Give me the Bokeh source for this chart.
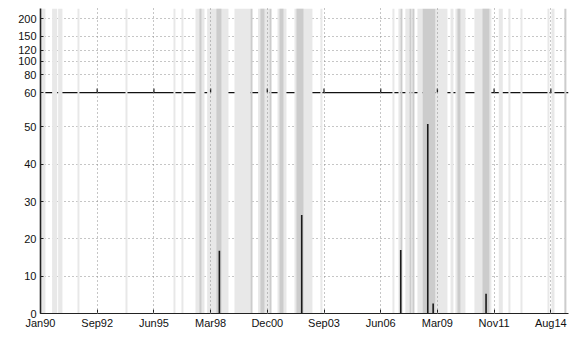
import numpy as np
import pandas as pd
from datetime import datetime
from bokeh.plotting import figure
from bokeh.models import Range1d, FixedTicker, Span
from bokeh.embed import file_html
from bokeh.resources import INLINE

# ---------------- data ----------------
x_tick_dates = ["1990-01-01", "1992-09-27", "1995-06-24", "1998-03-20", "2000-12-14",
                "2003-09-10", "2006-06-06", "2009-03-02", "2011-11-27", "2014-08-23"]
x_tick_labels = ["Jan90", "Sep92", "Jun95", "Mar98", "Dec00",
                 "Sep03", "Jun06", "Mar09", "Nov11", "Aug14"]
y_tick_values = [0, 10, 20, 30, 40, 50, 60, 80, 100, 120, 150, 200]

light_start = ["1990-01-01", "1990-07-25", "1990-11-08", "1991-10-15", "1994-02-08",
               "1996-06-03", "1996-10-22", "1997-06-26", "1998-01-18", "1999-05-15",
               "2000-07-05", "2001-06-12", "2002-04-07", "2003-07-08", "2006-12-30",
               "2007-04-15", "2007-08-15", "2007-11-30", "2008-03-15", "2009-01-27",
               "2009-10-19", "2010-01-14", "2010-12-15", "2012-02-17", "2012-08-05",
               "2013-03-06", "2014-06-25", "2014-09-03"]
light_end = ["1990-03-28", "1990-10-22", "1991-01-23", "1991-11-19", "1994-03-15",
             "1996-07-08", "1996-11-26", "1997-12-02", "1999-01-29", "2000-02-21",
             "2001-01-21", "2001-11-17", "2003-02-18", "2003-08-13", "2007-02-03",
             "2007-05-20", "2007-10-25", "2007-12-17", "2008-06-12", "2009-08-26",
             "2009-12-10", "2010-07-09", "2011-10-10", "2012-04-28", "2012-09-10",
             "2013-04-10", "2014-07-30", "2014-10-27"]

dark_start = ["1997-09-04", "1998-07-01", "2000-02-21", "2000-08-15", "2001-01-21",
              "2001-07-17", "2002-05-12", "2007-05-20", "2007-10-25", "2007-12-17",
              "2008-06-12", "2010-02-19", "2011-05-06", "2015-04-19"]
dark_end = ["1997-10-10", "1998-09-27", "2000-03-28", "2000-10-25", "2001-02-26",
            "2001-09-25", "2002-09-13", "2007-06-24", "2007-11-30", "2008-01-22",
            "2009-01-27", "2010-04-12", "2011-09-05", "2015-05-25"]

spike_dates = ["1998-08-22", "2002-08-13", "2007-05-25", "2008-09-13", "2008-12-17", "2011-07-08"]
spike_values = [16.8, 26.4, 17.0, 50.8, 2.7, 5.3]

# ---------------- broken y scale: linear below, log above ----------------
LOW_TOP = 59.2     # top of the linear part (plot units)
BREAK = 60.0       # value where the log part begins
K = 16.39          # plot units per e-fold in the log part
UP_TOP = 237.0     # top value of the log part


def ymap(v):
    v = np.asarray(v, dtype=float)
    return np.where(v < BREAK, v, LOW_TOP + K * np.log(np.maximum(v, BREAK) / BREAK))


YTOP = float(ymap(UP_TOP))
FONT = "Liberation Sans"

x_start = datetime(1990, 1, 1)
x_end = datetime(2015, 7, 1)

p = figure(width=572, height=335, x_axis_type="datetime",
           output_backend="svg", toolbar_location=None,
           x_range=Range1d(x_start, x_end), y_range=Range1d(0, YTOP),
           min_border_left=40, min_border_right=4, min_border_top=8, min_border_bottom=22)
p.outline_line_color = None
p.background_fill_color = "white"
p.border_fill_color = "white"

# line at the break (under the bands)
p.add_layout(Span(location=float(ymap(60)), dimension="width", level="underlay",
                  line_color="#111111", line_width=1.3))

# bands
p.quad(left=pd.to_datetime(light_start), right=pd.to_datetime(light_end),
       bottom=0, top=YTOP, fill_color="#e8e8e8", line_color=None)
p.quad(left=pd.to_datetime(dark_start), right=pd.to_datetime(dark_end),
       bottom=0, top=YTOP, fill_color="#cccccc", line_color=None)

# spikes
sd = pd.to_datetime(spike_dates)
p.segment(x0=sd, y0=0, x1=sd, y1=ymap(spike_values), line_color="#1a1a1a", line_width=1.6)

# small inward ticks of the upper axis at the break
xt = pd.to_datetime(x_tick_dates)
yb = float(ymap(60))
p.segment(x0=xt[1:], y0=yb, x1=xt[1:], y1=yb + 4 / 3.733, line_color="#222222", line_width=1.3)

# ticks
xt_ms = [int((d - pd.Timestamp("1970-01-01")) // pd.Timedelta(milliseconds=1)) for d in xt]
p.xaxis.ticker = FixedTicker(ticks=xt_ms)
p.xaxis.major_label_overrides = {ms: lab for ms, lab in zip(xt_ms, x_tick_labels)}
yt_pos = [round(float(ymap(v)), 6) for v in y_tick_values]
p.yaxis.ticker = FixedTicker(ticks=yt_pos)
p.yaxis.major_label_overrides = {pos: str(v) for pos, v in zip(yt_pos, y_tick_values)}

for ax in (p.xaxis[0], p.yaxis[0]):
    ax.major_label_text_font = FONT
    ax.major_label_text_font_size = "11px"
    ax.major_label_text_color = "#111111"
    ax.axis_line_color = "#222222"
    ax.major_tick_line_color = "#222222"
    ax.minor_tick_line_color = None
    ax.major_tick_out = 0
p.xaxis.major_tick_in = 4
p.yaxis.major_tick_in = 3
p.xaxis.major_label_standoff = 3
p.yaxis.major_label_standoff = 4
p.yaxis.axis_line_width = 1.6
p.xaxis.axis_line_width = 1.2

# grids
p.xgrid.ticker = FixedTicker(ticks=xt_ms[1:])
p.xgrid.level = "overlay"
p.xgrid.grid_line_color = "#8c8c8c"
p.xgrid.grid_line_dash = "1 3"
p.xgrid.grid_line_width = 1
p.ygrid.ticker = FixedTicker(ticks=[round(float(ymap(v)), 6) for v in y_tick_values if v not in (0, 60)])
p.ygrid.grid_line_color = "#8c8c8c"
p.ygrid.grid_line_dash = "1 3"
p.ygrid.grid_line_width = 1

open("out.html", "w").write(file_html(p, INLINE))
